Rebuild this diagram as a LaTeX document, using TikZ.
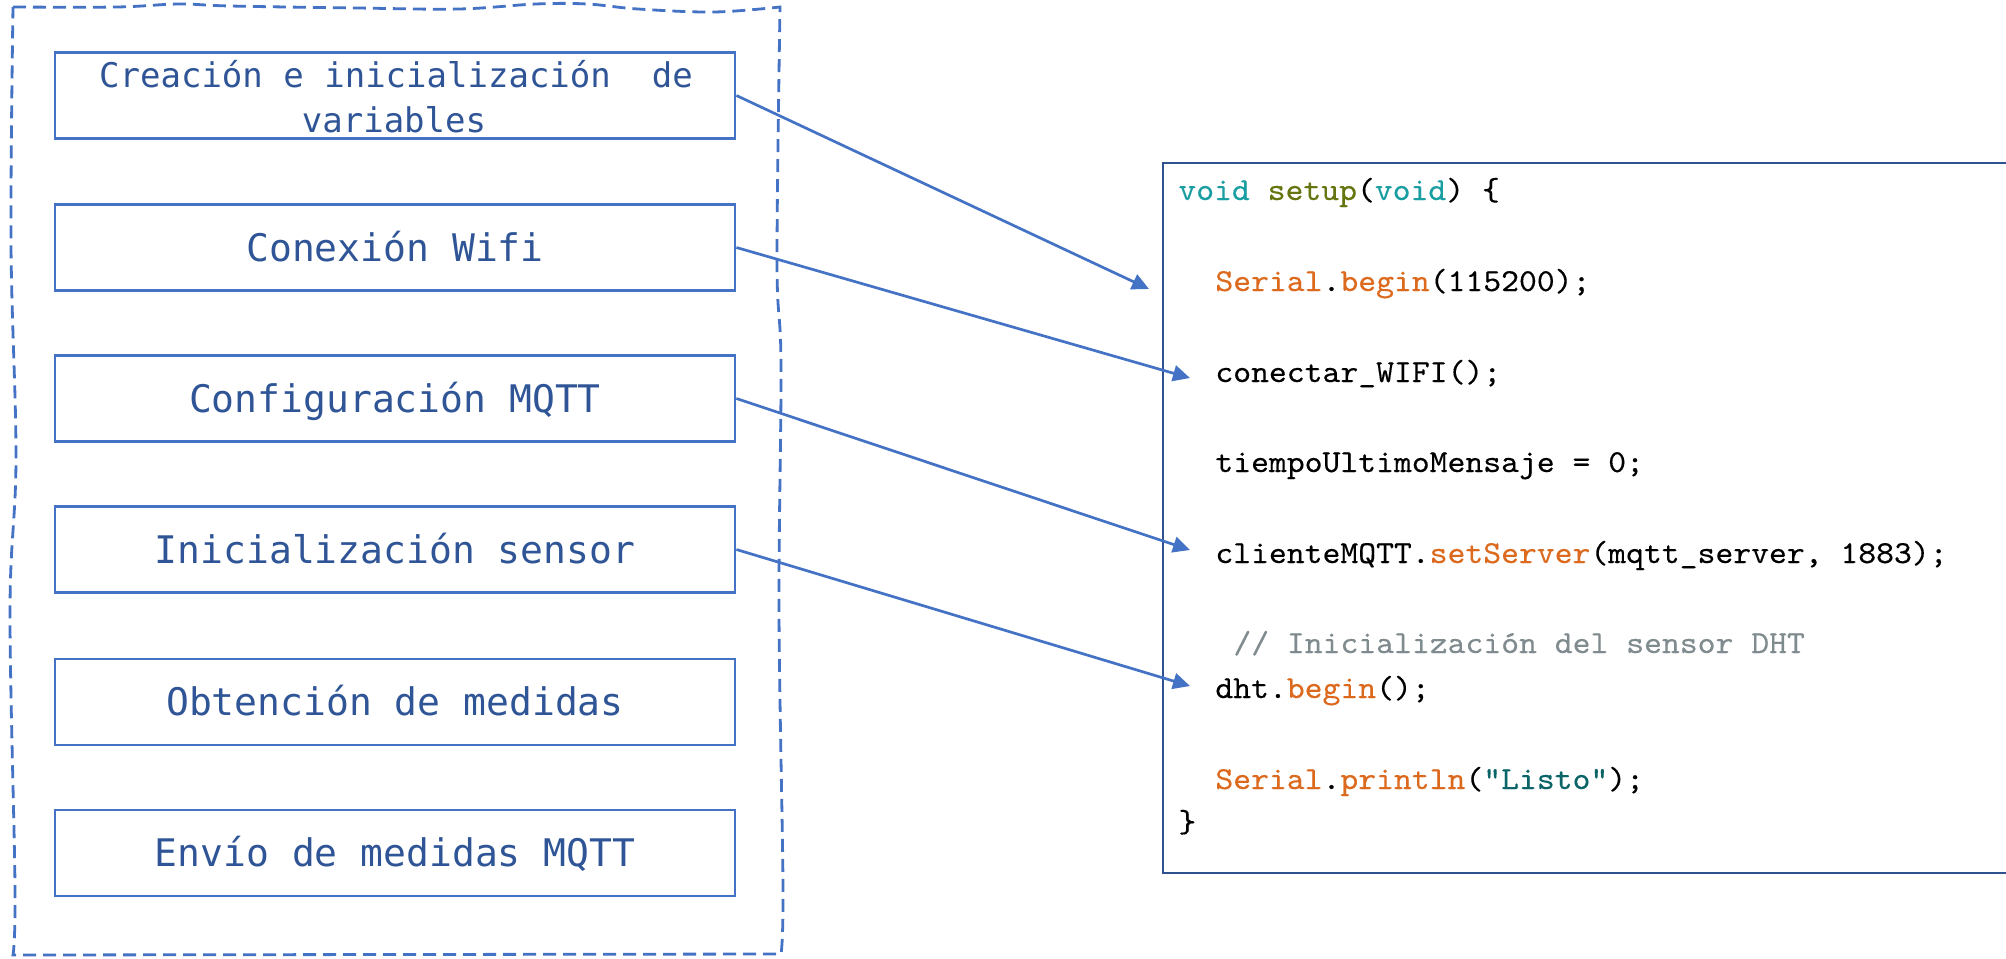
\documentclass[tikz,border=0pt]{standalone}
\usepackage{fontspec}
\newfontfamily\boxfont{DejaVu Sans Mono}
\newfontfamily\codefont{lmmono10-regular}[Extension=.otf, FakeStretch=1.063, FakeBold=0.3]
\usetikzlibrary{arrows.meta}

\definecolor{boxblue}{HTML}{4472C4}
\definecolor{textblue}{HTML}{2F5597}
\definecolor{codeframe}{HTML}{2F528F}
\definecolor{kwteal}{HTML}{1A9EA2}
\definecolor{kwolive}{HTML}{667510}
\definecolor{kworange}{HTML}{DC6A1E}
\definecolor{strteal}{HTML}{0B6468}
\definecolor{cmtgrey}{HTML}{7F8B8E}

\tikzset{
  frame/.style={draw=boxblue, line width=1.4pt, dash pattern=on 6.5pt off 3.5pt},
  stepbox/.style={draw=boxblue, line width=1.4pt, rectangle, inner sep=0pt,
    minimum width=340pt, minimum height=43pt, text=textblue,
    font=\boxfont\fontsize{19}{23}\selectfont, text height=13.5pt, text depth=0pt},
  firsttext/.style={inner sep=0pt, anchor=base, text=textblue,
    font=\boxfont\fontsize{17}{22}\selectfont},
  codebox/.style={draw=codeframe, line width=1.1pt, rectangle, inner sep=0pt,
    minimum width=468pt, minimum height=355pt},
  codeline/.style={inner sep=0pt, anchor=base west,
    font=\codefont\fontsize{16}{19}\selectfont},
  link/.style={draw=boxblue, line width=1.35pt,
    -{Triangle[length=8.5pt, width=8pt]}}
}

\begin{document}
\begin{tikzpicture}[x=0.5pt, y=-0.5pt]
\useasboundingbox (0,0) rectangle (2006,958);
\clip (0,0) rectangle (2006,958);

% dashed, slightly wavy outline around the step list
\draw[frame]
  plot[smooth, tension=0.6] coordinates {(13,7) (117,7) (179,4) (230,6) (357,8) (459,9) (536,4) (587,4) (638,9) (714,12) (780,7)}
  -- plot[smooth, tension=0.6] coordinates {(780,7) (777,263) (781,366) (779,611) (783,886) (781,954)}
  -- (13,955)
  -- plot[smooth, tension=0.6] coordinates {(13,955) (15,886) (10,611) (16,458) (11,244) (13,7)};

% program steps
\node[stepbox] (b1) at (395,95.5) {};
\node[firsttext] (b1a) at (396,87) {Creación e inicialización\ \ de};
\node[firsttext] (b1b) at (394,132) {variables};
\node[stepbox] (b2) at (395,247.5) {Conexión Wifi};
\node[stepbox] (b3) at (395,398.5) {Configuración MQTT};
\node[stepbox] (b4) at (395,549.5) {Inicialización sensor};
\node[stepbox] (b5) at (395,702) {Obtención de medidas};
\node[stepbox] (b6) at (395,853) {Envío de medidas MQTT};

% setup() listing
\node[codebox] (code) at (1631,518) {};
\node[codeline] (c1) at (1178,200) {\textcolor{kwteal}{void} \textcolor{kwolive}{setup}(\textcolor{kwteal}{void}) \{};
\node[codeline] (c2) at (1215,291) {\textcolor{kworange}{Serial}.\textcolor{kworange}{begin}(115200);};
\node[codeline] (c3) at (1215,382) {conectar\_WIFI();};
\node[codeline] (c4) at (1215,472) {tiempoUltimoMensaje = 0;};
\node[codeline] (c5) at (1215,563) {clienteMQTT.\textcolor{kworange}{setServer}(mqtt\_server, 1883);};
\node[codeline, text=cmtgrey] (c6) at (1233,653) {// Inicialización del sensor DHT};
\node[codeline] (c7) at (1215,698) {dht.\textcolor{kworange}{begin}();};
\node[codeline] (c8) at (1215,789) {\textcolor{kworange}{Serial}.\textcolor{kworange}{println}(\textcolor{strteal}{"Listo"});};
\node[codeline] (c9) at (1178,832) {\}};

% arrow ends beside the matching statements
\coordinate (t1) at (1149,289);
\coordinate (t2) at (1190,378);
\coordinate (t3) at (1190,550);
\coordinate (t4) at (1190,686);

\draw[link] (b1.east) -- (t1);
\draw[link] (b2.east) -- (t2);
\draw[link] (b3.east) -- (t3);
\draw[link] (b4.east) -- (t4);
\end{tikzpicture}
\end{document}
